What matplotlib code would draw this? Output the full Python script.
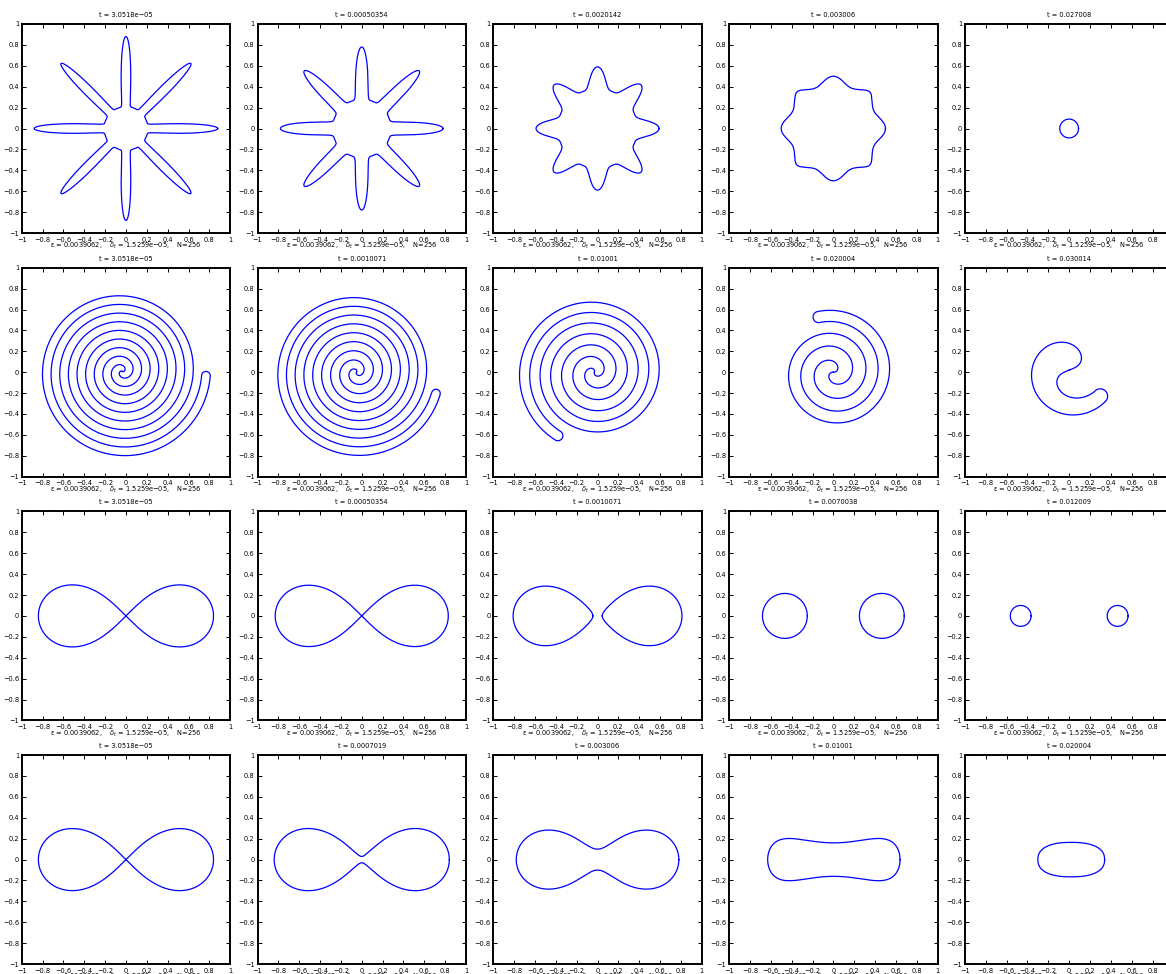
import numpy as np
import matplotlib
matplotlib.use("Agg")
import matplotlib.pyplot as plt

# ---------------- data ----------------
titles = [
    ["t = 3.0518e\u221205", "t = 0.00050354", "t = 0.0020142", "t = 0.003006", "t = 0.027008"],
    ["t = 3.0518e\u221205", "t = 0.0010071", "t = 0.01001", "t = 0.020004", "t = 0.030014"],
    ["t = 3.0518e\u221205", "t = 0.00050354", "t = 0.0010071", "t = 0.0070038", "t = 0.012009"],
    ["t = 3.0518e\u221205", "t = 0.0007019", "t = 0.003006", "t = 0.01001", "t = 0.020004"],
]
xlabel_text = "\u03b5 = 0.0039062,    $\\delta_t$ = 1.5259e\u221205,    N=256"
tick_values = [-1, -0.8, -0.6, -0.4, -0.2, 0, 0.2, 0.4, 0.6, 0.8, 1]
tick_labels = ["\u22121", "\u22120.8", "\u22120.6", "\u22120.4", "\u22120.2", "0",
               "0.2", "0.4", "0.6", "0.8", "1"]

# row 1: eight-armed star relaxing to a rounded square, then a small circle
star_rmax = [0.88, 0.78, 0.59]
star_rmin = [0.21, 0.28, 0.38]
star_sharp = [6.0, 3.5, 1.8]
square_half_side = 0.37
square_exponent = 12
square_bump = 0.13
square_bump_width = 0.3
final_circle_r = 0.09

# row 2: double spiral strip unwinding
spiral_cx = [-0.036, -0.05, -0.03, 0.0, 0.0]
spiral_cy = [0.008, 0.0, 0.0, 0.0, 0.02]
spiral_rend = [0.846, 0.83, 0.75, 0.60, 0.46]
spiral_turns = [5.1, 4.8, 3.47, 2.3, 0.83]
spiral_end_deg = [-3, -15, 240, 105, 320]
spiral_q = [1.0, 0.95, 0.89, 0.8, 0.4]

# row 3: figure-eight pinching off into two drops
split_c2 = [0.3528, 0.3446, 0.329]
split_b2 = [0.3528, 0.3446, 0.327]
drop_centers = [0.465, 0.465]
drop_radii = [0.215, 0.10]

# row 4: figure-eight merging into one blob
merge_c2 = [0.3528, 0.35235, 0.2992]
merge_b2 = [0.3528, 0.35325, 0.3092]
peanut = dict(X=0.635, neck=0.16, bulge=0.25, cx=0.005)
blob = dict(X=0.32, Y=0.165, n=2.4, cx=0.02)

# ---------------- geometry helpers ----------------
LINE = dict(color="#0000ff", lw=0.9)


def star_curve(rmax, rmin, p):
    th = np.linspace(0, 2 * np.pi, 3000)
    r = rmin + (rmax - rmin) * ((1 + np.cos(8 * th)) / 2) ** p
    return [(r * np.cos(th), r * np.sin(th))]


def bumpy_square(s, m, bump, width):
    th = np.linspace(0, 2 * np.pi, 3000)
    r_sq = s / (np.abs(np.cos(th)) ** m + np.abs(np.sin(th)) ** m) ** (1 / m)
    d = np.abs(np.mod(th + np.pi / 4, np.pi / 2) - np.pi / 4)
    r = r_sq + bump * np.exp(-(d / width) ** 2)
    return [(r * np.cos(th), r * np.sin(th))]


def circle(cx, cy, r):
    th = np.linspace(0, 2 * np.pi, 400)
    return (cx + r * np.cos(th), cy + r * np.sin(th))


def spiral_curve(cx, cy, rend, turns, end_deg, q):
    Psi = 2 * np.pi * turns
    e = np.deg2rad(end_deg)
    phi0 = e - Psi
    psiA = np.linspace(0, Psi, 6000)
    rA = rend * (psiA / Psi) ** q
    psiB = np.linspace(0, Psi - np.pi, 6000)
    rB = rend * (psiB / Psi) ** q
    ax_ = rA * np.cos(phi0 + psiA)
    ay_ = rA * np.sin(phi0 + psiA)
    bx_ = rB * np.cos(phi0 + np.pi + psiB)
    by_ = rB * np.sin(phi0 + np.pi + psiB)
    rBe = rB[-1]
    rmid = (rend + rBe) / 2
    rad = (rend - rBe) / 2
    s = np.linspace(0, np.pi, 100)
    u = np.array([np.cos(e), np.sin(e)])
    v = np.array([-np.sin(e), np.cos(e)])
    capx = rmid * u[0] + rad * (np.cos(s) * u[0] + np.sin(s) * v[0])
    capy = rmid * u[1] + rad * (np.cos(s) * u[1] + np.sin(s) * v[1])
    x = np.concatenate([ax_, capx, bx_[::-1], ax_[:1]]) + cx
    y = np.concatenate([ay_, capy, by_[::-1], ay_[:1]]) + cy
    return [(x, y)]


def cassini(c2, b2):
    if b2 <= c2:
        phi = np.linspace(-np.pi, np.pi, 6001)
        w = c2 + b2 * np.exp(1j * phi)
        z = np.sqrt(w)
        return [(z.real, z.imag), (-z.real, -z.imag)]
    phi = np.linspace(0, 2 * np.pi, 6001)
    w = c2 + b2 * np.exp(1j * phi)
    z = np.sqrt(np.abs(w)) * np.exp(0.5j * np.unwrap(np.angle(w)))
    zz = np.concatenate([z, -z])
    return [(zz.real, zz.imag)]


def peanut_curve(X, neck, bulge, cx):
    t = np.linspace(0, 2 * np.pi, 1000)
    x = cx + X * np.cos(t)
    y = np.sin(t) * (neck + bulge * np.cos(t) ** 2)
    return [(x, y)]


def blob_curve(X, Y, n, cx):
    t = np.linspace(0, 2 * np.pi, 1000)
    c, s = np.cos(t), np.sin(t)
    x = cx + X * np.sign(c) * np.abs(c) ** (2 / n)
    y = Y * np.sign(s) * np.abs(s) ** (2 / n)
    return [(x, y)]


# build curve lists per panel
panels = []
row = [star_curve(star_rmax[i], star_rmin[i], star_sharp[i]) for i in range(3)]
row.append(bumpy_square(square_half_side, square_exponent, square_bump, square_bump_width))
row.append([circle(0, 0, final_circle_r)])
panels.append(row)
panels.append([spiral_curve(spiral_cx[i], spiral_cy[i], spiral_rend[i], spiral_turns[i],
                            spiral_end_deg[i], spiral_q[i]) for i in range(5)])
row = [cassini(split_c2[i], split_b2[i]) for i in range(3)]
for k in range(2):
    row.append([circle(-drop_centers[k], 0, drop_radii[k]), circle(drop_centers[k], 0, drop_radii[k])])
panels.append(row)
row = [cassini(merge_c2[i], merge_b2[i]) for i in range(3)]
row.append(peanut_curve(peanut["X"], peanut["neck"], peanut["bulge"], peanut["cx"]))
row.append(blob_curve(blob["X"], blob["Y"], blob["n"], blob["cx"]))
panels.append(row)

# ---------------- figure ----------------
W, H = 1166, 974
fig = plt.figure(figsize=(W / 100, H / 100), dpi=100)
fig.patch.set_facecolor("white")

ax_w, ax_h = 208.5, 209.0
col_left = [21.7 + 235.8 * i for i in range(5)]
row_top = [24.0 + 243.7 * j for j in range(4)]
fs = 4.8

for j in range(4):
    for i in range(5):
        ax = fig.add_axes([col_left[i] / W, 1 - (row_top[j] + ax_h) / H, ax_w / W, ax_h / H])
        for (x, y) in panels[j][i]:
            ax.plot(x, y, **LINE)
        ax.set_xlim(-1, 1)
        ax.set_ylim(-1, 1)
        ax.set_xticks(tick_values)
        ax.set_yticks(tick_values)
        xl = list(tick_labels)
        if i == 4:
            xl[-1] = ""  # lies beyond the right edge of the canvas
        ax.set_xticklabels(xl)
        ax.set_yticklabels(tick_labels)
        ax.tick_params(direction="in", length=3, width=0.7, top=True, right=True,
                       labelsize=fs, colors="black")
        ax.tick_params(axis="x", pad=2.6)
        ax.tick_params(axis="y", pad=2)
        for sp in ax.spines.values():
            sp.set_linewidth(1.4)
        ax.set_title(titles[j][i], fontsize=fs, pad=5)
        ax.set_xlabel(xlabel_text, fontsize=fs, labelpad=-1.2)

fig.savefig("out.png", dpi=100)
